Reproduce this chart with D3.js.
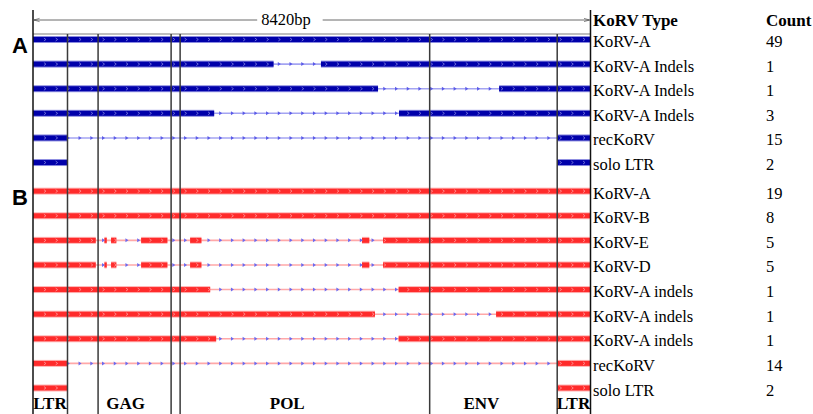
<!DOCTYPE html>
<html>
<head>
<meta charset="utf-8">
<script src="https://cdn.jsdelivr.net/npm/d3@7"></script>
<style>
  body { margin: 0; background: #fff; }
  text { font-family: "Liberation Serif", "Times New Roman", serif; }
</style>
</head>
<body>
<svg id="chart" width="813" height="414"></svg>
<script>
// genome length and region boundaries (bp)
const genomeLen = 8420;
const boundaries = [521, 983, 2086, 2222, 5991, 7917];
const regionNames = ["LTR", "GAG", "POL", "ENV", "LTR"];
const regionLabelPos = [257, 1398, 3840, 6772, 8163];

// rows
const rowTypes = ["KoRV-A", "KoRV-A Indels", "KoRV-A Indels", "KoRV-A Indels", "recKoRV", "solo LTR",
                  "KoRV-A", "KoRV-B", "KoRV-E", "KoRV-D", "KoRV-A indels", "KoRV-A indels", "KoRV-A indels", "recKoRV", "solo LTR"];
const rowCounts = [49, 1, 1, 3, 15, 2, 19, 8, 5, 5, 1, 1, 1, 14, 2];
const rowGroups = ["A", "A", "A", "A", "A", "A", "B", "B", "B", "B", "B", "B", "B", "B", "B"];
const rowLinked = [true, true, true, true, true, false, true, true, true, true, true, true, true, true, false];
const rowSegments = [
  [[0, 8420]],
  [[0, 3633], [4349, 8420]],
  [[0, 5211], [7040, 8420]],
  [[0, 2736], [5528, 8420]],
  [[0, 521], [7917, 8420]],
  [[0, 521], [7917, 8420]],
  [[0, 8420]],
  [[0, 8420]],
  [[0, 948], [1078, 1114], [1179, 1259], [1633, 2030], [2373, 2544], [4969, 5079], [5286, 8420]],
  [[0, 948], [1078, 1114], [1179, 1259], [1633, 2030], [2373, 2544], [4969, 5079], [5286, 8420]],
  [[0, 2676], [5522, 8420]],
  [[0, 5165], [6994, 8420]],
  [[0, 2766], [5522, 8420]],
  [[0, 521], [7917, 8420]],
  [[0, 521], [7917, 8420]]
];

const colors = {
  A: {bar: "#0000aa", halo: "#8c8ce0", thin: "#a4a4f2", mark: "#5a5ae8", barMark: "#8080e0"},
  B: {bar: "#ff2b2b", halo: "#ffb4b4", thin: "#ffa8a8", mark: "#6a6af0", barMark: "#ff9c9c"}
};

var svg = d3.select("#chart");
var x = d3.scaleLinear().domain([0, genomeLen]).range([33, 590.5]);
var row = d3.scaleLinear().domain([0, 14]).range([39.5, 384]);
var rowY = i => row(i) + (rowGroups[i] === "B" ? 4 : 0);

var rows = rowTypes.map((t, i) => ({i, type: t, count: rowCounts[i], group: rowGroups[i],
                                    linked: rowLinked[i], segs: rowSegments[i]}));

// top gray rule
svg.append("line")
  .attr("x1", x(0)).attr("x2", x(genomeLen))
  .attr("y1", 34).attr("y2", 34)
  .attr("stroke", "#a8a8a8").attr("stroke-width", 1.6);

// length arrow
var defs = svg.append("defs");
["start", "end"].forEach(k => {
  defs.append("marker")
    .attr("id", "arr-" + k)
    .attr("viewBox", "0 0 10 10")
    .attr("refX", k === "end" ? 10 : 0).attr("refY", 5)
    .attr("markerWidth", 7).attr("markerHeight", 7)
    .attr("orient", "auto")
    .append("path")
    .attr("d", k === "end" ? "M0,2 L10,5 L0,8" : "M10,2 L0,5 L10,8")
    .attr("fill", "none").attr("stroke", "#333").attr("stroke-width", 1);
});
var lenText = svg.append("text")
  .attr("x", x(3820)).attr("y", 25)
  .attr("text-anchor", "middle")
  .attr("font-size", 16.5)
  .text(genomeLen + "bp");
var bb = lenText.node().getBBox();
svg.append("line")
  .attr("x1", x(0) + 1).attr("x2", bb.x - 4).attr("y1", 20).attr("y2", 20)
  .attr("stroke", "#444").attr("stroke-width", 0.8)
  .attr("marker-start", "url(#arr-start)");
svg.append("line")
  .attr("x1", bb.x + bb.width + 12).attr("x2", x(genomeLen) - 1).attr("y1", 20).attr("y2", 20)
  .attr("stroke", "#444").attr("stroke-width", 0.8)
  .attr("marker-end", "url(#arr-end)");

// rows
var markStep = 177;
var g = svg.selectAll("g.row")
  .data(rows).enter().append("g")
  .attr("class", "row")
  .attr("transform", d => `translate(0,${rowY(d.i)})`);

g.filter(d => d.linked).append("line")
  .attr("x1", d => x(d.segs[0][0]))
  .attr("x2", d => x(d.segs[d.segs.length - 1][1]))
  .attr("stroke", d => colors[d.group].thin)
  .attr("stroke-width", 1.6);

g.selectAll("rect.halo")
  .data(d => d.segs.map(s => ({s, group: d.group})))
  .enter().append("rect")
  .attr("class", "halo")
  .attr("x", d => x(d.s[0]))
  .attr("width", d => x(d.s[1]) - x(d.s[0]))
  .attr("y", -3.5).attr("height", 7)
  .attr("fill", d => colors[d.group].halo);

g.selectAll("rect.bar")
  .data(d => d.segs.map(s => ({s, group: d.group})))
  .enter().append("rect")
  .attr("class", "bar")
  .attr("x", d => x(d.s[0]))
  .attr("width", d => x(d.s[1]) - x(d.s[0]))
  .attr("y", -2.5).attr("height", 5)
  .attr("fill", d => colors[d.group].bar);

// direction marks
g.selectAll("path.mark")
  .data(d => {
    var lo = d.segs[0][0], hi = d.segs[d.segs.length - 1][1];
    return d3.range(180, genomeLen - 60, markStep)
      .filter(p => p > lo && p < hi)
      .map(p => {
        var inBar = d.segs.some(s => p >= s[0] && p <= s[1]);
        return {p, inBar, group: d.group};
      })
      .filter(m => m.inBar || d.linked);
  })
  .enter().append("path")
  .attr("class", "mark")
  .attr("transform", d => `translate(${x(d.p)},0)`)
  .attr("d", d => d.inBar ? "M-1,-1.5 L1,0 L-1,1.5" : "M-1.5,-2 L1.5,0 L-1.5,2 Z")
  .attr("fill", d => d.inBar ? "none" : colors[d.group].mark)
  .attr("stroke", d => d.inBar ? colors[d.group].barMark : "none")
  .attr("stroke-width", 0.8);

// region boundary lines
svg.selectAll("line.bound")
  .data(boundaries).enter().append("line")
  .attr("class", "bound")
  .attr("x1", d => x(d)).attr("x2", d => x(d))
  .attr("y1", 34).attr("y2", 414)
  .attr("stroke", "#3a3a3a").attr("stroke-width", 1.5);

// outer frame lines
[0, genomeLen].forEach(v => {
  svg.append("line")
    .attr("x1", x(v)).attr("x2", x(v))
    .attr("y1", 10).attr("y2", 414)
    .attr("stroke", "#111").attr("stroke-width", 1.5);
});

// group letters
["A", "B"].forEach(k => {
  var first = rowGroups.indexOf(k);
  svg.append("text")
    .attr("x", 12).attr("y", rowY(first) + 13.5)
    .style("font-family", "'Liberation Sans', Arial, sans-serif")
    .attr("font-weight", "bold").attr("font-size", 22)
    .text(k);
});

// headers
svg.append("text").attr("x", 593).attr("y", 26)
  .attr("font-weight", "bold").attr("font-size", 17).text("KoRV Type");
svg.append("text").attr("x", 766).attr("y", 26)
  .attr("font-weight", "bold").attr("font-size", 17).text("Count");

// row labels
g.append("text")
  .attr("x", 593).attr("y", 7.5)
  .attr("font-size", 16.5)
  .text(d => d.type);
g.append("text")
  .attr("x", 766).attr("y", 7.5)
  .attr("font-size", 16.5)
  .text(d => d.count);

// region names
svg.selectAll("text.region")
  .data(regionNames).enter().append("text")
  .attr("class", "region")
  .attr("x", (d, i) => x(regionLabelPos[i]))
  .attr("y", 409)
  .attr("text-anchor", "middle")
  .attr("font-weight", "bold").attr("font-size", 17)
  .text(d => d);
</script>
</body>
</html>
